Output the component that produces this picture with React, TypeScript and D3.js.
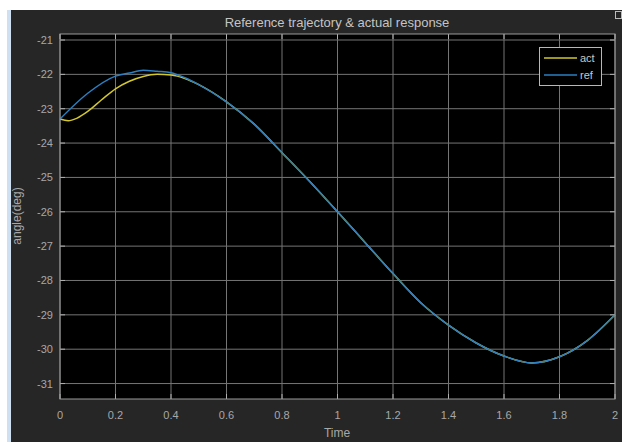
import React from "react";
import * as d3 from "d3";

const xTicks = [0, 0.2, 0.4, 0.6, 0.8, 1, 1.2, 1.4, 1.6, 1.8, 2];
const yTicks = [-21, -22, -23, -24, -25, -26, -27, -28, -29, -30, -31];

const actT = [0, 0.03, 0.06, 0.1, 0.15, 0.2, 0.25, 0.3, 0.35, 0.4, 0.45, 0.5, 0.6, 0.7, 0.8, 0.9, 1.0, 1.1, 1.2, 1.3, 1.4, 1.5, 1.6, 1.7, 1.8, 1.9, 2.0];
const actV = [-23.3, -23.35, -23.28, -23.08, -22.74, -22.42, -22.2, -22.06, -22.0, -22.02, -22.12, -22.3, -22.8, -23.45, -24.28, -25.12, -26.0, -26.9, -27.8, -28.65, -29.3, -29.82, -30.2, -30.4, -30.22, -29.75, -29.0];

const refT = [0, 0.1, 0.2, 0.25, 0.3, 0.35, 0.4, 0.45, 0.5, 0.6, 0.7, 0.8, 0.9, 1.0, 1.1, 1.2, 1.3, 1.4, 1.5, 1.6, 1.7, 1.8, 1.9, 2.0];
const refV = [-23.3, -22.55, -22.05, -21.96, -21.88, -21.91, -21.95, -22.1, -22.3, -22.8, -23.45, -24.28, -25.12, -26.0, -26.9, -27.8, -28.65, -29.3, -29.82, -30.2, -30.4, -30.22, -29.75, -29.0];

const legendLabels = ["act", "ref"];
const seriesColors = ["#d2c72c", "#2b7fc2"];

const W = 622, H = 442;
const L = 60, R = 615, T = 34, B = 399;

export default function App() {
  const x = d3.scaleLinear().domain([0, 2]).range([L, R]);
  const y = d3.scaleLinear().domain([-31.45, -20.825]).range([B, T]);
  const act = actT.map((t, i) => [t, actV[i]] as [number, number]);
  const ref = refT.map((t, i) => [t, refV[i]] as [number, number]);
  const lineSmooth = d3.line<[number, number]>().x(d => x(d[0])).y(d => y(d[1])).curve(d3.curveMonotoneX);
  const font = "'Liberation Sans', Arial, sans-serif";
  const gridColor = "#757575";
  const tickColor = "#a8a8a8";
  return (
    <svg width={W} height={H} style={{ position: "fixed", left: 0, top: 0 }} fontFamily={font}>
      <rect x={0} y={0} width={W} height={H} fill="#ffffff" />
      <rect x={7} y={10} width={4} height={H - 10} fill="#cfe0f3" />
      <rect x={11} y={10} width={W - 11} height={H - 10} fill="#262626" />
      <rect x={615.5} y={11.5} width={6} height={7} fill="none" stroke="#bbbbbb" strokeWidth={1} />
      <text x={337} y={27} textAnchor="middle" fontSize={13} fill="#c4c4c4">Reference trajectory &amp; actual response</text>
      <rect x={L} y={T} width={R - L} height={B - T} fill="#000000" />
      {xTicks.map(t => (
        <line key={"gx" + t} x1={x(t)} x2={x(t)} y1={T} y2={B} stroke={gridColor} strokeWidth={1} />
      ))}
      {yTicks.map(t => (
        <line key={"gy" + t} x1={L} x2={R} y1={y(t)} y2={y(t)} stroke={gridColor} strokeWidth={1} />
      ))}
      {xTicks.map(t => (
        <g key={"tx" + t}>
          <line x1={x(t)} x2={x(t)} y1={B} y2={B - 5} stroke="#b0b0b0" />
          <line x1={x(t)} x2={x(t)} y1={T} y2={T + 5} stroke="#b0b0b0" />
          <text x={x(t)} y={419} textAnchor="middle" fontSize={11} fill={tickColor}>{String(t)}</text>
        </g>
      ))}
      {yTicks.map(t => (
        <g key={"ty" + t}>
          <line x1={L} x2={L + 5} y1={y(t)} y2={y(t)} stroke="#b0b0b0" />
          <line x1={R} x2={R - 5} y1={y(t)} y2={y(t)} stroke="#b0b0b0" />
          <text x={53} y={y(t) + 4} textAnchor="end" fontSize={11} fill={tickColor}>{String(t)}</text>
        </g>
      ))}
      <path d={lineSmooth(act) || ""} fill="none" stroke={seriesColors[0]} strokeWidth={1.5} />
      <path d={lineSmooth(ref) || ""} fill="none" stroke={seriesColors[1]} strokeWidth={1.5} />
      <rect x={L} y={T} width={R - L} height={B - T} fill="none" stroke="#9a9a9a" strokeWidth={1} />
      <text x={337} y={437} textAnchor="middle" fontSize={12} fill={tickColor}>Time</text>
      <text transform={`translate(21,${216}) rotate(-90)`} textAnchor="middle" fontSize={12} fill={tickColor}>angle(deg)</text>
      <rect x={539.5} y={47.5} width={62} height={38} fill="#000000" stroke="#b8b8b8" strokeWidth={1} />
      {legendLabels.map((lab, i) => (
        <g key={lab}>
          <line x1={544} x2={577} y1={58 + i * 17} y2={58 + i * 17} stroke={seriesColors[i]} strokeWidth={1.5} />
          <text x={580} y={62 + i * 17} fontSize={11} fill="#c8c8c8">{lab}</text>
        </g>
      ))}
    </svg>
  );
}
